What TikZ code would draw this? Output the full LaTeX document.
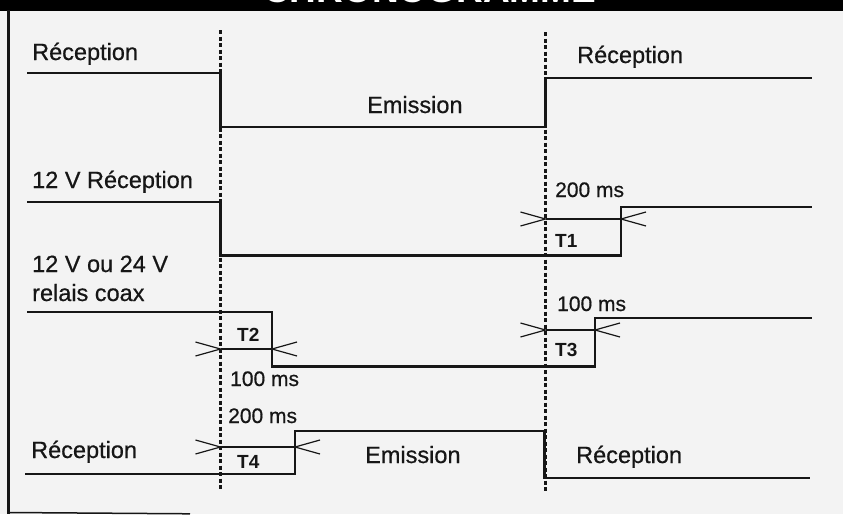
\documentclass[tikz,border=0pt]{standalone}
\usepackage{fontspec}
\setmainfont{Liberation Sans}
\newfontfamily\lblfont[FakeBold=0.6]{Liberation Sans}
\definecolor{ink}{HTML}{161616}
\definecolor{paper}{HTML}{F3F3F3}
\tikzset{
  sig/.style={draw=ink, line width=2.4pt, line join=miter},
  dimline/.style={draw=ink, line width=1.2pt},
  guide/.style={draw=ink, line width=2.5pt, dash pattern=on 4pt off 2.5pt},
  lbl/.style={anchor=base west, inner sep=0pt, text=ink, font=\lblfont\fontsize{23.5}{28}\selectfont},
  mslbl/.style={anchor=base west, inner sep=0pt, text=ink, font=\lblfont\fontsize{21}{25}\selectfont},
  tlbl/.style={anchor=base west, inner sep=0pt, text=ink, font=\bfseries\fontsize{19}{23}\selectfont},
  vleft/.pic={\draw[dimline] (-25,-7) -- (0,0) -- (-25,7);},
  vright/.pic={\draw[dimline] (25,-7) -- (0,0) -- (25,7);}
}
\begin{document}
\begin{tikzpicture}[x=1pt,y=-1pt]
\useasboundingbox (0,0) rectangle (843,514);
\clip (0,0) rectangle (843,514);
\fill[paper] (0,0) rectangle (843,514);
% frame
\fill[black] (0,0) rectangle (843,10.5);
\node[anchor=base west, inner sep=0pt, text=white, font=\bfseries\fontsize{37}{40}\selectfont] (title) at (263,2) {CHRONOGRAMME};
\draw[ink, line width=2.6pt] (8.5,10) -- (8.5,514);
\draw[ink, line width=1.5pt] (8,512.5) -- (190,513.8);

% guides
\coordinate (g1t) at (220.5,30); \coordinate (g1b) at (220.5,490);
\coordinate (g2t) at (545.5,32); \coordinate (g2b) at (545.5,492);
\draw[guide] (g1t) -- (g1b);
\draw[guide] (g2t) -- (g2b);

% signal 1
\draw[sig] (27,73) -- (220.5,73) -- (220.5,127) -- (545.5,127) -- (545.5,78) -- (812,78);
% signal 2
\draw[sig] (27,202) -- (220.5,202) -- (220.5,255.5) -- (621,255.5) -- (621,207) -- (812,207);
% signal 3
\draw[sig] (27,312) -- (272,312) -- (272,366.5) -- (595,366.5) -- (595,318) -- (812,318);
% signal 4
\draw[sig] (25,474) -- (295,474) -- (295,431) -- (544.5,431) -- (544.5,478) -- (810,478);

% dimensions
\coordinate (t1a) at (545.5,219); \coordinate (t1b) at (621,219);
\draw[dimline] (t1a) -- (t1b); \pic at (t1a) {vleft}; \pic at (t1b) {vright};
\coordinate (t2a) at (220.5,349); \coordinate (t2b) at (272,349);
\draw[dimline] (t2a) -- (t2b); \pic at (t2a) {vleft}; \pic at (t2b) {vright};
\coordinate (t3a) at (545.5,330); \coordinate (t3b) at (595,330);
\draw[dimline] (t3a) -- (t3b); \pic at (t3a) {vleft}; \pic at (t3b) {vright};
\coordinate (t4a) at (220.5,447); \coordinate (t4b) at (295,447);
\draw[dimline] (t4a) -- (t4b); \pic at (t4a) {vleft}; \pic at (t4b) {vright};

% labels
\node[lbl] (l1) at (32,60) {Réception};
\node[lbl] (l2) at (367,113) {Emission};
\node[lbl] (l3) at (577,63) {Réception};
\node[lbl] (l4) at (32,188) {12 V Réception};
\node[lbl] (l5) at (32,272) {12 V ou 24 V};
\node[lbl] (l6) at (32,301) {relais coax};
\node[lbl] (l7) at (31,458) {Réception};
\node[lbl] (l8) at (365,463) {Emission};
\node[lbl] (l9) at (576,463) {Réception};

\node[mslbl] (m1) at (555,197) {200 ms};
\node[tlbl] (n1) at (555,247) {T1};
\node[tlbl] (n2) at (237,341) {T2};
\node[mslbl] (m2) at (230,386) {100 ms};
\node[mslbl] (m3) at (557,311) {100 ms};
\node[tlbl] (n3) at (555,356) {T3};
\node[mslbl] (m4) at (228,423) {200 ms};
\node[tlbl] (n4) at (237,468) {T4};
\end{tikzpicture}
\end{document}
